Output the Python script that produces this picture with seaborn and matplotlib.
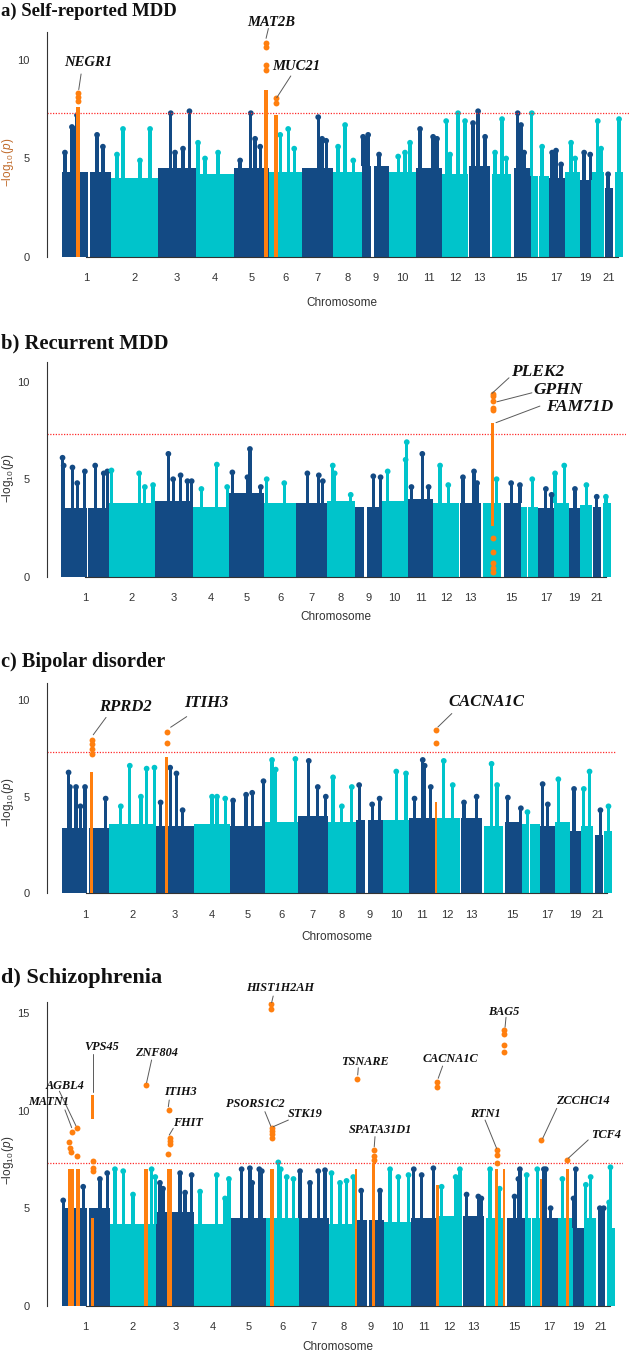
import numpy as np
import pandas as pd
import matplotlib
matplotlib.use("Agg")
import matplotlib.pyplot as plt
import seaborn as sns

sns.set_theme(style="white")
plt.rcParams["font.family"] = ["Liberation Sans", "DejaVu Sans"]
plt.rcParams["mathtext.fontset"] = "custom"
plt.rcParams["mathtext.rm"] = "Liberation Sans"
plt.rcParams["mathtext.it"] = "Liberation Sans:italic"

DARK = "#134a84"
CYAN = "#00c4cb"
ORANGE = "#ff7f0f"
AXIS_GREY = "#333333"
SIG_LINE = -np.log10(5e-8)

# hg19 chromosome lengths (Mb)
CHROM_LEN = [249.3, 243.2, 198.0, 191.2, 180.9, 171.1, 159.1, 146.4, 141.2, 135.5,
             135.0, 133.9, 115.2, 107.3, 102.5, 90.4, 81.2, 78.1, 59.1, 63.0, 48.1, 51.3]
CHROM_LABELS = ["1", "2", "3", "4", "5", "6", "7", "8", "9", "10", "11", "12", "13",
                "", "15", "", "17", "", "19", "", "21", ""]
# stretches with no SNPs (centromeres, acrocentric short arms), Mb
CHROM_GAPS = {1: (134, 143), 9: (50, 62), 13: (0, 6), 14: (0, 10), 15: (0, 12),
              16: (34, 38), 21: (0, 8), 22: (0, 10)}

# ---- a) self-reported MDD ----
A_BASE = [4.3, 4.0, 4.5, 4.2, 4.5, 4.3, 4.5, 4.3, 4.6, 4.3, 4.5,
          4.2, 4.6, 4.2, 4.5, 4.1, 4.0, 4.3, 3.9, 4.3, 3.5, 4.3]
A_SPIKES = [(1, 15, 5.3), (1, 51, 6.6), (1, 67, 6.5), (1, 77, 7.2), (1, 180, 6.2), (1, 210, 5.6),
            (2, 33, 5.2), (2, 64, 6.5), (2, 151, 4.9), (2, 203, 6.5),
            (3, 66, 7.3), (3, 88, 5.3), (3, 129, 5.5), (3, 162, 7.4),
            (4, 8, 5.8), (4, 44, 5.0), (4, 111, 5.3),
            (5, 33, 4.9), (5, 88, 7.3), (5, 110, 6.0), (5, 136, 5.6),
            (6, 58, 6.2), (6, 99, 6.5), (6, 130, 5.5),
            (7, 82, 7.1), (7, 102, 6.0), (7, 123, 5.9),
            (8, 25, 5.6), (8, 61, 6.7), (8, 103, 4.9),
            (9, 7, 6.1), (9, 20, 6.0), (9, 33, 6.2), (9, 89, 5.2),
            (10, 46, 5.1), (10, 81, 5.3), (10, 107, 5.8),
            (11, 23, 6.5), (11, 90, 6.1), (11, 110, 6.0),
            (12, 22, 6.9), (12, 42, 5.2), (12, 83, 7.3), (12, 119, 6.9),
            (13, 26, 6.8), (13, 52, 7.4), (13, 88, 6.1),
            (14, 24, 5.3), (14, 60, 7.0), (14, 81, 5.0),
            (15, 33, 7.3), (15, 50, 6.7), (15, 66, 5.3),
            (16, 3, 7.3), (16, 56, 5.6),
            (17, 17, 5.3), (17, 37, 5.4), (17, 63, 4.7),
            (18, 33, 5.8), (18, 54, 5.0),
            (19, 22, 5.3), (19, 53, 5.2),
            (20, 33, 6.9), (20, 50, 5.5),
            (21, 23, 4.2), (22, 31, 7.0)]
A_HITS = [(1, 71, 91, 0.0, 7.6), (5, 155, 174, 0.0, 8.5), (6, 27, 46, 0.0, 7.2)]
A_HIT_DOTS = [(1, 81, 7.9), (1, 81, 8.1), (1, 81, 8.3),
              (5, 164, 9.5), (5, 164, 9.75), (5, 164, 10.65), (5, 164, 10.85),
              (6, 37, 7.8), (6, 37, 8.05)]
A_GENES = ["NEGR1", "MAT2B", "MUC21"]

# ---- b) recurrent MDD ----
B_BASE = [3.5, 3.8, 3.9, 3.6, 4.3, 3.8, 3.8, 3.9, 3.6, 3.9, 4.0,
          3.8, 3.8, 3.8, 3.8, 3.6, 3.5, 3.8, 3.5, 3.7, 3.6, 3.8]
B_SPIKES = [(1, 8, 6.1), (1, 14, 5.7), (1, 60, 5.6), (1, 85, 4.8), (1, 125, 5.4), (1, 179, 5.7),
            (1, 224, 5.3), (1, 243, 5.4),
            (2, 15, 5.45), (2, 160, 5.3), (2, 190, 4.6), (2, 233, 4.7),
            (3, 70, 6.3), (3, 95, 5.0), (3, 134, 5.2), (3, 170, 4.9), (3, 192, 4.9),
            (4, 45, 4.5), (4, 126, 5.75), (4, 180, 4.6),
            (5, 16, 5.35), (5, 95, 5.1), (5, 108, 6.55), (5, 165, 4.6),
            (6, 15, 5.0), (6, 107, 4.8),
            (7, 57, 5.3), (7, 117, 5.2), (7, 138, 4.9),
            (8, 31, 5.7), (8, 41, 5.3), (8, 125, 4.2),
            (9, 97, 5.15), (9, 135, 5.1),
            (10, 31, 5.4), (10, 125, 6.0), (10, 131, 6.9),
            (11, 20, 4.6), (11, 77, 6.3), (11, 110, 4.6),
            (12, 35, 5.7), (12, 78, 4.7),
            (13, 21, 5.1), (13, 79, 5.4), (13, 95, 4.8),
            (14, 82, 5.0), (15, 51, 4.8), (15, 97, 4.7), (16, 59, 5.0),
            (17, 40, 4.5), (17, 70, 4.2), (18, 7, 5.3), (18, 55, 5.7),
            (19, 33, 4.5), (20, 34, 4.7), (21, 25, 4.1), (22, 25, 4.1)]
B_HITS = [(14, 55, 69, 2.6, 7.9)]
B_HIT_DOTS = [(14, 62, 0.25), (14, 62, 0.43), (14, 62, 0.69), (14, 62, 1.28), (14, 62, 1.97),
              (14, 62, 8.55), (14, 62, 8.65), (14, 62, 9.0), (14, 62, 9.25), (14, 62, 9.35)]
B_GENES = ["PLEK2", "GPHN", "FAM71D"]

# ---- c) bipolar disorder ----
C_BASE = [3.4, 3.6, 3.5, 3.6, 3.5, 3.7, 4.0, 3.7, 3.8, 3.8, 3.9,
          3.9, 3.9, 3.5, 3.7, 3.6, 3.5, 3.7, 3.2, 3.5, 3.0, 3.2]
C_SPIKES = [(1, 36, 6.25), (1, 43, 5.5), (1, 75, 5.5), (1, 98, 4.5), (1, 122, 5.5), (1, 230, 4.9),
            (2, 60, 4.5), (2, 107, 6.6), (2, 165, 5.0), (2, 195, 6.45), (2, 236, 6.5),
            (3, 25, 4.7), (3, 75, 6.5), (3, 108, 6.2), (3, 140, 4.3),
            (4, 96, 5.0), (4, 122, 5.0), (4, 165, 4.9),
            (5, 15, 4.8), (5, 83, 5.1), (5, 115, 5.2), (5, 174, 5.8),
            (6, 38, 6.9), (6, 57, 6.4), (6, 160, 6.95),
            (7, 59, 6.85), (7, 106, 5.5), (7, 148, 5.0),
            (8, 27, 6.0), (8, 73, 4.5), (8, 125, 5.5),
            (9, 17, 5.6), (9, 85, 4.6), (9, 124, 4.9),
            (10, 70, 6.3), (10, 121, 6.2),
            (11, 30, 4.9), (11, 73, 6.9), (11, 83, 6.6), (11, 115, 5.5),
            (12, 48, 6.85), (12, 95, 5.6), (13, 20, 4.7), (13, 86, 5.0),
            (14, 49, 6.7), (14, 78, 5.6), (15, 27, 4.95), (15, 95, 4.4), (16, 27, 4.2),
            (17, 16, 5.65), (17, 43, 4.6), (18, 17, 5.9), (19, 21, 5.4),
            (20, 13, 5.4), (20, 43, 6.3), (21, 37, 4.3), (22, 31, 4.5)]
C_HITS = [(1, 149, 165, 0.0, 6.3), (3, 49, 65, 0.0, 7.05), (12, 0, 11, 0.0, 4.7)]
C_HIT_DOTS = [(1, 157, 7.2), (1, 157, 7.45), (1, 157, 7.7), (1, 157, 7.95),
              (3, 57, 7.8), (3, 57, 8.35), (12, 5, 7.8), (12, 5, 8.45)]
C_GENES = ["RPRD2", "ITIH3", "CACNA1C"]

# ---- d) schizophrenia ----
D_BASE = [5.0, 4.2, 4.8, 4.2, 4.5, 4.5, 4.5, 4.2, 4.4, 4.3, 4.5,
          4.6, 4.6, 4.5, 4.5, 4.5, 4.5, 4.5, 4.0, 4.5, 3.8, 4.0]
D_SPIKES = [(1, 8, 5.4), (1, 112, 6.1), (1, 199, 6.5), (1, 237, 6.8),
            (2, 28, 7.0), (2, 71, 6.9), (2, 122, 5.7), (2, 219, 7.0), (2, 238, 6.6),
            (3, 19, 6.3), (3, 35, 6.0), (3, 124, 6.8), (3, 150, 5.8), (3, 184, 6.7),
            (4, 30, 5.85), (4, 117, 6.7), (4, 160, 5.5), (4, 180, 6.5),
            (5, 55, 7.0), (5, 98, 7.05), (5, 110, 6.3), (5, 147, 7.0), (5, 160, 6.9),
            (6, 65, 7.35), (6, 78, 7.0), (6, 109, 6.6), (6, 144, 6.5),
            (7, 7, 6.9), (7, 59, 6.3), (7, 102, 6.9), (7, 137, 6.95),
            (8, 12, 6.8), (8, 56, 6.3), (8, 90, 6.4), (8, 125, 6.6),
            (9, 20, 5.9), (9, 118, 5.9),
            (10, 29, 7.0), (10, 72, 6.6), (10, 125, 6.7),
            (11, 17, 7.0), (11, 58, 6.7), (11, 119, 7.05),
            (12, 27, 6.1), (12, 100, 6.6), (12, 115, 6.5), (12, 122, 7.0),
            (13, 23, 5.7), (13, 84, 5.6), (13, 100, 5.5),
            (14, 30, 7.0), (14, 80, 6.0),
            (15, 50, 5.6), (15, 70, 6.5), (15, 78, 7.0),
            (16, 11, 6.7), (16, 66, 7.0),
            (17, 10, 7.0), (17, 20, 7.0), (17, 45, 5.0),
            (18, 25, 6.5), (19, 5, 5.5), (19, 17, 7.0),
            (20, 10, 6.2), (20, 35, 6.6), (21, 20, 5.0), (21, 40, 5.0),
            (22, 20, 5.3), (22, 27, 7.1)]
D_HITS = [(1, 33, 65, 0.0, 7.0), (1, 75, 95, 0.0, 7.0), (1, 152, 170, 0.0, 4.5),
          (1, 154, 168, 9.6, 10.8), (2, 179, 199, 0.0, 7.0), (3, 54, 80, 0.0, 7.0),
          (6, 21, 43, 0.0, 7.0), (8, 134, 146, 0.0, 7.0), (9, 76, 94, 0.0, 7.3),
          (12, 0, 11, 0.0, 6.2), (14, 56, 72, 0.0, 7.0), (14, 96, 107, 0.0, 7.0),
          (16, 79, 90, 0.0, 6.5), (18, 43, 59, 0.0, 7.0)]
D_HIT_DOTS = [(1, 36, 8.4), (1, 43, 8.1), (1, 50, 7.9), (1, 55, 8.9), (1, 80, 7.7), (1, 78, 9.1),
              (1, 161, 6.9), (1, 161, 7.05), (1, 161, 7.4),
              (2, 189, 11.3),
              (3, 61, 7.8), (3, 70, 8.3), (3, 70, 8.45), (3, 70, 8.6), (3, 65, 10.05),
              (6, 32, 8.6), (6, 32, 8.8), (6, 32, 8.95), (6, 32, 9.1), (6, 28, 15.2), (6, 28, 15.45),
              (8, 142, 11.65),
              (9, 85, 7.45), (9, 85, 7.7), (9, 85, 8.0),
              (12, 4, 11.2), (12, 4, 11.45),
              (14, 64, 7.3), (14, 64, 7.75), (14, 64, 8.0),
              (14, 104, 13.0), (14, 104, 13.35), (14, 104, 13.95), (14, 104, 14.15),
              (16, 86, 8.5), (18, 51, 7.45)]
D_GENES = ["MATN1", "AGBL4", "VPS45", "ZNF804", "ITIH3", "FHIT", "HIST1H2AH", "PSORS1C2",
           "STK19", "TSNARE", "SPATA31D1", "CACNA1C", "BAG5", "RTN1", "ZCCHC14", "TCF4"]

# label placement: (text x, text y, leader x0, y0, x1, y1) in genome Mb / -log10 p
A_LABEL_POS = [(133, 9.85, 98, 9.29, 86, 8.5), (1073, 11.9, 1060, 11.6, 1048, 11.1),
               (1202, 9.65, 1175, 9.19, 1103, 8.09)]
B_LABEL_POS = [(2499, 10.5, 2347, 10.2, 2258, 9.4), (2604, 9.6, 2467, 9.43, 2284, 8.97),
               (2719, 8.72, 2509, 8.75, 2279, 7.9)]
C_LABEL_POS = [(331, 9.65, 232, 9.1, 165, 8.2), (759, 9.83, 654, 9.14, 570, 8.59),
               (2220, 9.9, 2041, 9.3, 1968, 8.6)]
D_LABEL_POS = [(-70, 10.46, 17, 10.04, 52, 9.13), (17, 11.28, -12, 11.0, 74, 9.23),
               (208, 13.25, 161, 12.9, 161, 10.97), (494, 12.94, 468, 12.6, 442, 11.44),
               (616, 10.97, 560, 10.55, 555, 10.2), (659, 9.35, 581, 9.1, 560, 8.75),
               (1136, 16.28, 1101, 15.88, 1093, 15.54), (1006, 10.34, 1058, 9.95, 1089, 9.2),
               (1266, 9.83, 1180, 9.52, 1101, 9.18), (1579, 12.51, 1544, 12.2, 1541, 11.83),
               (1657, 9.01, 1631, 8.67, 1627, 8.15), (2021, 12.64, 1983, 12.29, 1960, 11.66),
               (2299, 15.08, 2313, 14.79, 2308, 14.28), (2204, 9.81, 2204, 9.52, 2264, 8.07),
               (2715, 10.5, 2577, 10.12, 2504, 8.58), (2833, 8.75, 2741, 8.5, 2637, 7.56)]

OFFSETS = np.concatenate([[0.0], np.cumsum(CHROM_LEN)[:-1]])
CENTERS = OFFSETS + np.array(CHROM_LEN) / 2


def tone(chrom):
    return "dark" if chrom % 2 else "light"


def segments(chrom):
    length = CHROM_LEN[chrom - 1]
    if chrom not in CHROM_GAPS:
        return [(0, length)]
    g0, g1 = CHROM_GAPS[chrom]
    return [s for s in [(0, g0), (g1, length)] if s[1] - s[0] > 0]


def draw_panel(ax, base, spikes, hits, hit_dots, genes, label_pos, gene_size, ytop, yticks):
    palette = {"dark": DARK, "light": CYAN}
    for i, h in enumerate(base):
        chrom = i + 1
        for s0, s1 in segments(chrom):
            ax.bar(OFFSETS[i] + (s0 + s1) / 2, h, width=s1 - s0,
                   color=palette[tone(chrom)], linewidth=0, zorder=1)

    sp = pd.DataFrame(spikes, columns=["chrom", "mb", "logp"])
    sp["x"] = OFFSETS[sp["chrom"] - 1] + sp["mb"]
    sp["base"] = [base[c - 1] for c in sp["chrom"]]
    sp["tone"] = [tone(c) for c in sp["chrom"]]
    ax.bar(sp["x"], sp["logp"] - sp["base"], bottom=sp["base"], width=17,
           color=[palette[t] for t in sp["tone"]], linewidth=0, zorder=1.5)
    sns.scatterplot(data=sp, x="x", y="logp", hue="tone", palette=palette, s=17,
                    linewidth=0, legend=False, ax=ax, zorder=2)

    ax.axhline(SIG_LINE, color="#ff2a2a", lw=0.9, ls=(0, (1, 1.2)), zorder=2.5)

    ht = pd.DataFrame(hits, columns=["chrom", "start", "end", "low", "high"])
    ax.bar(OFFSETS[ht["chrom"] - 1] + (ht["start"] + ht["end"]) / 2, ht["high"] - ht["low"],
           bottom=ht["low"], width=ht["end"] - ht["start"], color=ORANGE, linewidth=0, zorder=3)
    hd = pd.DataFrame(hit_dots, columns=["chrom", "mb", "logp"])
    hd["x"] = OFFSETS[hd["chrom"] - 1] + hd["mb"]
    sns.scatterplot(data=hd, x="x", y="logp", color=ORANGE, s=18, linewidth=0,
                    legend=False, ax=ax, zorder=3.5)

    for gene, (tx, ty, x0, y0, x1, y1) in zip(genes, label_pos):
        ax.plot([x0, x1], [y0, y1], color="#5a5a5a", lw=0.7, clip_on=False, zorder=4)
        ax.text(tx, ty, gene, ha="center", va="center", fontsize=gene_size,
                family=["Liberation Serif"], style="italic", weight="bold",
                color="#111111", clip_on=False, zorder=5)

    ax.set_ylim(0, ytop)
    ax.set_yticks(yticks)
    ax.set_xticks(CENTERS)
    ax.set_xticklabels(CHROM_LABELS)
    ax.set_xlabel("")
    ax.set_ylabel("")
    for side in ["top", "right"]:
        ax.spines[side].set_visible(False)
    ax.spines["left"].set_bounds(0, ytop)
    ax.spines["bottom"].set_bounds(CENTERS[0], CENTERS[-1])
    for side in ["left", "bottom"]:
        ax.spines[side].set_color(AXIS_GREY)
        ax.spines[side].set_linewidth(0.8)
    ax.tick_params(axis="both", direction="out", length=4.8, width=0.8, color=AXIS_GREY,
                   labelcolor=AXIS_GREY, labelsize=8)
    ax.tick_params(axis="x", pad=7)
    ax.tick_params(axis="y", pad=7.5)
    ax.set_facecolor("white")


W, H = 630, 1353
fig = plt.figure(figsize=(W / 100, H / 100), dpi=100)

panels = [
    dict(left=46.7, right=630, y0=257.0, ppu=19.7, xlim=(-78.6, 2917), ytop=11.4, yticks=[0, 5, 10],
         data=(A_BASE, A_SPIKES, A_HITS, A_HIT_DOTS, A_GENES, A_LABEL_POS), gene_size=10.5,
         title="a) Self-reported MDD", title_y=11, title_size=13.5,
         ylab_y=162, ylab_color="#c06a2a", chr_xy=(342, 303)),
    dict(left=46.7, right=626, y0=576.7, ppu=19.5, xlim=(-75, 2960), ytop=11.0, yticks=[0, 5, 10],
         data=(B_BASE, B_SPIKES, B_HITS, B_HIT_DOTS, B_GENES, B_LABEL_POS), gene_size=12.5,
         title="b) Recurrent MDD", title_y=343, title_size=14.8,
         ylab_y=478, ylab_color=AXIS_GREY, chr_xy=(336, 617)),
    dict(left=46.7, right=616, y0=893.3, ppu=19.33, xlim=(-78.5, 2900), ytop=10.9, yticks=[0, 5, 10],
         data=(C_BASE, C_SPIKES, C_HITS, C_HIT_DOTS, C_GENES, C_LABEL_POS), gene_size=12,
         title="c) Bipolar disorder", title_y=662, title_size=14.6,
         ylab_y=802, ylab_color=AXIS_GREY, chr_xy=(337, 937)),
    dict(left=46.7, right=623, y0=1305.7, ppu=19.5, xlim=(-78, 2922), ytop=15.57, yticks=[0, 5, 10, 15],
         data=(D_BASE, D_SPIKES, D_HITS, D_HIT_DOTS, D_GENES, D_LABEL_POS), gene_size=8.8,
         title="d) Schizophrenia", title_y=978, title_size=16,
         ylab_y=1160, ylab_color=AXIS_GREY, chr_xy=(338, 1347)),
]

for p in panels:
    height_px = p["ytop"] * p["ppu"]
    ax = fig.add_axes([p["left"] / W, 1 - p["y0"] / H, (p["right"] - p["left"]) / W, height_px / H])
    base, spikes, hits, hit_dots, genes, label_pos = p["data"]
    draw_panel(ax, base, spikes, hits, hit_dots, genes, label_pos, p["gene_size"], p["ytop"], p["yticks"])
    ax.set_xlim(*p["xlim"])
    fig.text(1 / W, 1 - p["title_y"] / H, p["title"], ha="left", va="center",
             fontsize=p["title_size"], family=["Liberation Serif"], weight="bold", color="#111111")
    fig.text(8.5 / W, 1 - p["ylab_y"] / H, r"$-\log_{10}(p)$", rotation=90, ha="center",
             va="center", fontsize=8.5, color=p["ylab_color"])
    fig.text(p["chr_xy"][0] / W, 1 - p["chr_xy"][1] / H, "Chromosome", ha="center",
             va="center", fontsize=8.5, color=AXIS_GREY)

fig.savefig("out.png", dpi=100, facecolor="white")
